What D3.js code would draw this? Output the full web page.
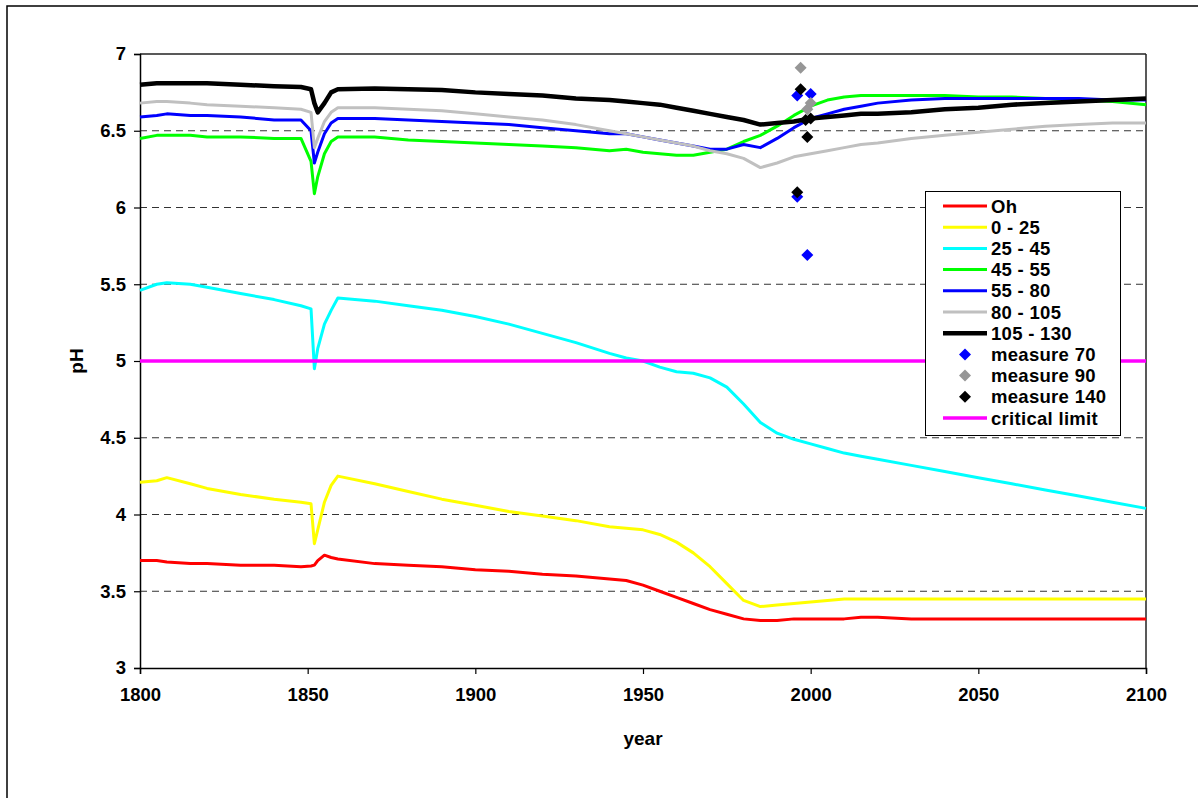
<!DOCTYPE html>
<html>
<head>
<meta charset="utf-8">
<script src="https://cdn.jsdelivr.net/npm/d3@7"></script>
<style>
  html, body { margin: 0; padding: 0; background: #fff; }
  svg { display: block; font-family: "Liberation Sans", Arial, sans-serif; }
</style>
</head>
<body>
<svg id="chart" width="1198" height="798"></svg>
<script>
// ---- data ----
const years = [1800, 1805, 1808, 1815, 1820, 1830, 1840, 1848, 1851, 1852, 1853, 1855, 1857, 1859, 1870, 1880, 1890, 1900, 1910, 1920, 1930, 1940, 1945, 1950, 1955, 1960, 1965, 1970, 1975, 1980, 1985, 1990, 1995, 2000, 2005, 2010, 2015, 2020, 2030, 2040, 2050, 2060, 2070, 2080, 2090, 2100];

const oh      = [3.70, 3.70, 3.69, 3.68, 3.68, 3.67, 3.67, 3.66, 3.665, 3.67, 3.70, 3.735, 3.72, 3.71, 3.68, 3.67, 3.66, 3.64, 3.63, 3.61, 3.60, 3.58, 3.57, 3.54, 3.50, 3.46, 3.42, 3.38, 3.35, 3.32, 3.31, 3.31, 3.32, 3.32, 3.32, 3.32, 3.33, 3.33, 3.32, 3.32, 3.32, 3.32, 3.32, 3.32, 3.32, 3.32];
const d0_25   = [4.21, 4.22, 4.24, 4.20, 4.17, 4.13, 4.10, 4.08, 4.07, 3.81, 3.90, 4.08, 4.19, 4.25, 4.20, 4.15, 4.10, 4.06, 4.02, 3.99, 3.96, 3.92, 3.91, 3.90, 3.87, 3.82, 3.75, 3.66, 3.55, 3.44, 3.40, 3.41, 3.42, 3.43, 3.44, 3.45, 3.45, 3.45, 3.45, 3.45, 3.45, 3.45, 3.45, 3.45, 3.45, 3.45];
const d25_45  = [5.46, 5.50, 5.51, 5.50, 5.48, 5.44, 5.40, 5.36, 5.34, 4.95, 5.08, 5.24, 5.33, 5.41, 5.39, 5.36, 5.33, 5.29, 5.24, 5.18, 5.12, 5.05, 5.02, 5.00, 4.96, 4.93, 4.92, 4.89, 4.83, 4.72, 4.60, 4.53, 4.49, 4.46, 4.43, 4.40, 4.38, 4.36, 4.32, 4.28, 4.24, 4.20, 4.16, 4.12, 4.08, 4.04];
const d45_55  = [6.45, 6.47, 6.47, 6.47, 6.46, 6.46, 6.45, 6.45, 6.30, 6.09, 6.20, 6.35, 6.43, 6.46, 6.46, 6.44, 6.43, 6.42, 6.41, 6.40, 6.39, 6.37, 6.38, 6.36, 6.35, 6.34, 6.34, 6.36, 6.38, 6.43, 6.47, 6.53, 6.60, 6.66, 6.70, 6.72, 6.73, 6.73, 6.73, 6.73, 6.72, 6.72, 6.71, 6.70, 6.69, 6.67];
const d55_80  = [6.59, 6.60, 6.61, 6.60, 6.60, 6.59, 6.57, 6.57, 6.50, 6.29, 6.36, 6.48, 6.55, 6.58, 6.58, 6.57, 6.56, 6.55, 6.54, 6.52, 6.50, 6.48, 6.48, 6.46, 6.44, 6.42, 6.40, 6.38, 6.38, 6.41, 6.39, 6.45, 6.52, 6.58, 6.61, 6.64, 6.66, 6.68, 6.70, 6.71, 6.71, 6.71, 6.71, 6.71, 6.70, 6.70];
const d80_105 = [6.68, 6.69, 6.69, 6.68, 6.67, 6.66, 6.65, 6.64, 6.62, 6.39, 6.45, 6.56, 6.62, 6.65, 6.65, 6.64, 6.63, 6.61, 6.59, 6.57, 6.54, 6.50, 6.48, 6.46, 6.44, 6.42, 6.40, 6.37, 6.35, 6.32, 6.26, 6.29, 6.33, 6.35, 6.37, 6.39, 6.41, 6.42, 6.45, 6.47, 6.49, 6.51, 6.53, 6.54, 6.55, 6.55];
const d105_130= [6.80, 6.81, 6.81, 6.81, 6.81, 6.80, 6.79, 6.785, 6.77, 6.68, 6.62, 6.68, 6.75, 6.77, 6.775, 6.77, 6.765, 6.75, 6.74, 6.73, 6.71, 6.70, 6.69, 6.68, 6.67, 6.65, 6.63, 6.61, 6.59, 6.57, 6.54, 6.55, 6.56, 6.58, 6.59, 6.60, 6.61, 6.61, 6.62, 6.64, 6.65, 6.67, 6.68, 6.69, 6.70, 6.71];

const m70Years  = [1996, 1996, 1999, 2000];
const m70Values = [6.73, 6.07, 5.69, 6.74];
const m90Years  = [1997, 1999, 2000];
const m90Values = [6.91, 6.64, 6.68];
const m140Years  = [1997, 1996, 1998.5, 2000, 1999];
const m140Values = [6.77, 6.10, 6.57, 6.58, 6.46];

const criticalYears  = [1800, 2100];
const criticalValues = [5, 5];

const xTicks = [1800, 1850, 1900, 1950, 2000, 2050, 2100];
const yTicks = [3, 3.5, 4, 4.5, 5, 5.5, 6, 6.5, 7];
const gridValues = [3.5, 4, 4.5, 5, 5.5, 6, 6.5];

const lineSeries = [
  { name: "Oh",       values: oh,       color: "#ff0000", width: 3 },
  { name: "0 - 25",   values: d0_25,    color: "#ffff00", width: 3 },
  { name: "25 - 45",  values: d25_45,   color: "#00ffff", width: 3 },
  { name: "45 - 55",  values: d45_55,   color: "#00ff00", width: 3 },
  { name: "55 - 80",  values: d55_80,   color: "#0000ff", width: 3 },
  { name: "80 - 105", values: d80_105,  color: "#c0c0c0", width: 3 },
  { name: "105 - 130",values: d105_130, color: "#000000", width: 4.5 }
];
const markerSeries = [
  { name: "measure 70",  years: m70Years,  values: m70Values,  color: "#0000ff" },
  { name: "measure 90",  years: m90Years,  values: m90Values,  color: "#969696" },
  { name: "measure 140", years: m140Years, values: m140Values, color: "#000000" }
];

// ---- layout ----
const svg = d3.select("#chart");
const x = d3.scaleLinear().domain([1800, 2100]).range([140, 1146]);
const y = d3.scaleLinear().domain([3, 7]).range([668, 54]);

// outer frame (top + left visible)
svg.append("rect").attr("x", 7).attr("y", 6).attr("width", 1300).attr("height", 900)
  .attr("fill", "none").attr("stroke", "#000").attr("stroke-width", 1.5);

// gridlines
svg.append("g").selectAll("line").data(gridValues).join("line")
  .attr("x1", x(1800)).attr("x2", x(2100))
  .attr("y1", d => y(d)).attr("y2", d => y(d))
  .attr("stroke", "#333").attr("stroke-width", 1).attr("stroke-dasharray", "7,5");

// plot box top & right
svg.append("line").attr("x1", x(1800)).attr("x2", x(2100)).attr("y1", y(7)).attr("y2", y(7))
  .attr("stroke", "#222").attr("stroke-width", 1.5);
svg.append("line").attr("x1", x(2100)).attr("x2", x(2100)).attr("y1", y(7)).attr("y2", y(3))
  .attr("stroke", "#222").attr("stroke-width", 1.5);

// axes
const yAxis = d3.axisLeft(y).tickValues(yTicks).tickFormat(d3.format("")).tickSize(6).tickPadding(8);
const xAxis = d3.axisBottom(x).tickValues(xTicks).tickFormat(d3.format("d")).tickSize(6).tickPadding(14);
const gy = svg.append("g").attr("transform", `translate(${x(1800)},0)`).call(yAxis);
const gx = svg.append("g").attr("transform", `translate(0,${y(3)})`).call(xAxis);
[gx, gy].forEach(g => {
  g.selectAll("path").attr("stroke", "#000").attr("stroke-width", 1.5);
  g.selectAll("line").attr("stroke", "#000").attr("stroke-width", 1.2);
  g.selectAll("text").attr("fill", "#000").style("font-size", "18.5px").style("font-weight", "bold")
    .style("font-family", "'Liberation Sans', Arial, sans-serif");
});

// axis titles
svg.append("text").attr("transform", `translate(76,${y(5)}) rotate(-90)`)
  .attr("text-anchor", "middle").attr("dy", "0.35em")
  .style("font-size", "19px").style("font-weight", "bold").text("pH");
svg.append("text").attr("x", (x(1800) + x(2100)) / 2).attr("y", 745)
  .attr("text-anchor", "middle")
  .style("font-size", "19px").style("font-weight", "bold").text("year");

// lines
const line = d3.line().x(d => x(d[0])).y(d => y(d[1]));
lineSeries.forEach(s => {
  svg.append("path")
    .datum(years.map((yr, i) => [yr, s.values[i]]))
    .attr("d", line).attr("fill", "none")
    .attr("stroke", s.color).attr("stroke-width", s.width)
    .attr("stroke-linejoin", "round");
});

// markers
const diamond = d3.symbol().type(d3.symbolSquare).size(72);
markerSeries.forEach(s => {
  svg.append("g").selectAll("path").data(s.years.map((yr, i) => [yr, s.values[i]])).join("path")
    .attr("d", diamond)
    .attr("transform", d => `translate(${x(d[0])},${y(d[1])}) rotate(45)`)
    .attr("fill", s.color);
});

// critical limit
svg.append("path")
  .datum(criticalYears.map((yr, i) => [yr, criticalValues[i]]))
  .attr("d", line).attr("fill", "none").attr("stroke", "#ff00ff").attr("stroke-width", 3.5);

// legend
const legendItems = [
  ...lineSeries.map(s => ({ name: s.name, type: "line", color: s.color, width: s.width })),
  ...markerSeries.map(s => ({ name: s.name, type: "marker", color: s.color })),
  { name: "critical limit", type: "line", color: "#ff00ff", width: 3.5 }
];
const lg = svg.append("g");
lg.append("rect").attr("x", 925.5).attr("y", 191.5).attr("width", 195).attr("height", 244)
  .attr("fill", "#fff").attr("stroke", "#000").attr("stroke-width", 1);
legendItems.forEach((it, i) => {
  const cy = 206 + i * 21.2;
  if (it.type === "line") {
    lg.append("line").attr("x1", 943).attr("x2", 987).attr("y1", cy).attr("y2", cy)
      .attr("stroke", it.color).attr("stroke-width", it.width);
  } else {
    lg.append("path").attr("d", diamond)
      .attr("transform", `translate(965,${cy}) rotate(45)`).attr("fill", it.color);
  }
  lg.append("text").attr("x", 991).attr("y", cy).attr("dy", "0.36em")
    .style("font-size", "18.5px").style("font-weight", "bold").style("letter-spacing", "0.3px").text(it.name);
});
</script>
</body>
</html>
